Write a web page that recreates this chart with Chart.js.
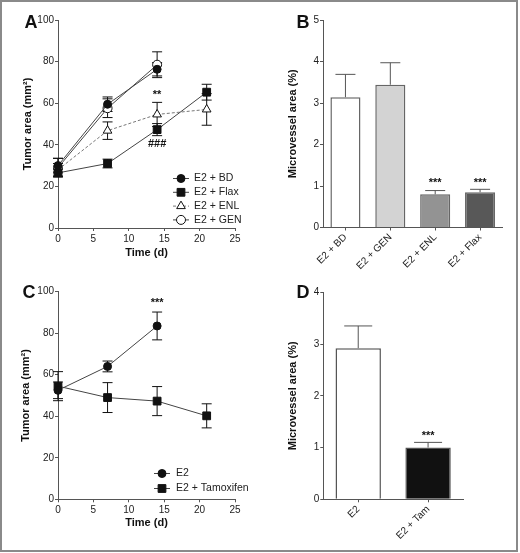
<!DOCTYPE html>
<html>
<head>
<meta charset="utf-8">
<script src="https://cdn.jsdelivr.net/npm/chart.js@4.4.1/dist/chart.umd.min.js"></script>
<style>
  html, body { margin: 0; padding: 0; background: #fff; }
  #frame { position: absolute; left: 0; top: 0; width: 518px; height: 552px;
           box-sizing: border-box; border: 2px solid #8a8a8a; }
  canvas { position: absolute; }
</style>
</head>
<body>
<div id="frame"></div>
<canvas id="chartA" width="260" height="270" style="left:0;top:0"></canvas>
<canvas id="chartB" width="260" height="270" style="left:260px;top:0"></canvas>
<canvas id="chartC" width="260" height="283" style="left:0;top:270px"></canvas>
<canvas id="chartD" width="260" height="283" style="left:260px;top:270px"></canvas>
<script>
const days = [0, 7, 14, 21];
const dayTicks = [0, 5, 10, 15, 20, 25];
const areaTicks = [0, 20, 40, 60, 80, 100];

// A: tumour area (mean, SEM)
const bdMean = [30, 59.5, 76.3];
const bdSem = [3.5, 3.5, 3.2];
const flaxMean = [26.5, 31, 47.3, 65.3];
const flaxSem = [1.8, 2.1, 2.9, 3.8];
const enlMean = [28, 46.8, 54.6, 57];
const enlSem = [3, 4.2, 5.8, 7.6];
const genMean = [29, 57.6, 78.5];
const genSem = [4.5, 4.5, 6.2];
const marksA = [{ x: 14, y: 64, text: "**" }, { x: 14, y: 40.5, text: "###" }];

// B: microvessel area
const groupsB = ["E2 + BD", "E2 + GEN", "E2 + ENL", "E2 + Flax"];
const mvaB = [3.14, 3.44, 0.8, 0.85];
const mvaSemB = [0.55, 0.53, 0.09, 0.07];
const mvaTicksB = [0, 1, 2, 3, 4, 5];
const marksB = [{ x: 2, y: 1.07, text: "***" }, { x: 3, y: 1.07, text: "***" }];

// C: tumour area, tamoxifen
const e2Mean = [52.5, 64, 83.5];
const e2Sem = [4, 2.6, 6.7];
const tamMean = [54.5, 49, 47.3, 40.2];
const tamSem = [7, 7.2, 7, 5.8];
const marksC = [{ x: 14, y: 94.5, text: "***" }];

// D: microvessel area, tamoxifen
const groupsD = ["E2", "E2 + Tam"];
const mvaD = [2.92, 1.0];
const mvaSemD = [0.43, 0.1];
const mvaTicksD = [0, 1, 2, 3, 4];
const marksD = [{ x: 1, y: 1.22, text: "***" }];

const FONT = "'Liberation Sans', Arial, sans-serif";
const AXIS = "#555";
Chart.defaults.font.family = FONT;
Chart.defaults.color = "#222";

const pts = (m) => m.map((v, i) => ({ x: days[i], y: v }));

function drawErr(chart, after) {
  const ctx = chart.ctx, ys = chart.scales.y;
  chart.data.datasets.forEach((ds, di) => {
    if (!ds.sem) return;
    const isBar = chart.config.type === "bar";
    if (isBar !== after) return;
    const meta = chart.getDatasetMeta(di);
    ctx.save();
    ctx.strokeStyle = ds.errColor || "#111";
    ctx.lineWidth = 1;
    meta.data.forEach((el, i) => {
      const raw = ds.data[i];
      const v = typeof raw === "object" ? raw.y : raw;
      const top = ys.getPixelForValue(v + ds.sem[i]);
      const bot = isBar ? el.y : ys.getPixelForValue(v - ds.sem[i]);
      const c = ds.cap / 2;
      ctx.beginPath();
      ctx.moveTo(el.x, top); ctx.lineTo(el.x, bot);
      ctx.moveTo(el.x - c, top); ctx.lineTo(el.x + c, top);
      if (!isBar) { ctx.moveTo(el.x - c, bot); ctx.lineTo(el.x + c, bot); }
      ctx.stroke();
    });
    ctx.restore();
  });
}

const errorBars = {
  id: "errorBars",
  beforeDatasetsDraw(chart) { drawErr(chart, false); },
  afterDatasetsDraw(chart) { drawErr(chart, true); }
};

const marks = {
  id: "marks",
  afterDatasetsDraw(chart, args, opts) {
    const ctx = chart.ctx;
    ctx.save();
    ctx.fillStyle = "#111";
    ctx.textAlign = "center";
    ctx.textBaseline = "middle";
    (opts.items || []).forEach(m => {
      ctx.font = "bold 11px " + FONT;
      ctx.fillText(m.text, chart.scales.x.getPixelForValue(m.x), chart.scales.y.getPixelForValue(m.y));
    });
    if (opts.tag) {
      ctx.font = "bold 18px " + FONT;
      ctx.fillText(opts.tag.text, opts.tag.x, opts.tag.y);
    }
    ctx.restore();
  }
};

const keyBox = {
  id: "keyBox",
  afterDraw(chart, args, opts) {
    if (!opts.x) return;
    const ctx = chart.ctx;
    chart.data.datasets.forEach((ds, i) => {
      const y = opts.y + i * opts.step, x = opts.x;
      ctx.save();
      ctx.strokeStyle = ds.borderColor;
      ctx.lineWidth = 1;
      ctx.setLineDash(ds.borderDash || []);
      ctx.beginPath();
      ctx.moveTo(x - 8, y); ctx.lineTo(x + 8, y);
      ctx.stroke();
      ctx.setLineDash([]);
      ctx.fillStyle = ds.pointBackgroundColor;
      ctx.strokeStyle = ds.pointBorderColor;
      ctx.lineWidth = ds.pointBorderWidth;
      Chart.helpers.drawPoint(ctx, { pointStyle: ds.pointStyle, radius: ds.pointRadius, rotation: 0, borderWidth: ds.pointBorderWidth }, x, y);
      ctx.fillStyle = "#222";
      ctx.font = "10.5px " + FONT;
      ctx.textBaseline = "middle";
      ctx.fillText(ds.label, x + opts.gap, y);
      ctx.restore();
    });
  }
};

function lineSet(label, mean, sem, style, radius, fill, dash) {
  return {
    label, data: pts(mean), sem, cap: 10,
    borderColor: dash ? "#777" : "#444", borderWidth: 1, borderDash: dash || [],
    pointStyle: style, pointRadius: radius, pointHoverRadius: radius,
    pointBackgroundColor: fill, pointBorderColor: "#111", pointBorderWidth: 1,
    tension: 0, clip: false
  };
}

function lineScales(titlePadY, titlePadX) {
  return {
    x: {
      type: "linear", min: 0, max: 25,
      afterBuildTicks: s => { s.ticks = dayTicks.map(v => ({ value: v })); },
      afterFit: s => { s.height = 42; },
      grid: { drawOnChartArea: false, tickLength: 3, color: AXIS },
      border: { color: AXIS },
      ticks: { padding: 2, font: { size: 10 } },
      title: { display: true, text: "Time (d)", font: { size: 11, weight: "bold" }, padding: { top: 0, bottom: titlePadX }, color: "#111" }
    },
    y: {
      min: 0, max: 100,
      afterBuildTicks: s => { s.ticks = areaTicks.map(v => ({ value: v })); },
      afterFit: s => { s.width = 58; },
      grid: { drawOnChartArea: false, tickLength: 3, color: AXIS },
      border: { color: AXIS },
      ticks: { padding: 1, font: { size: 10 } },
      title: { display: true, text: "Tumor area (mm²)", font: { size: 11, weight: "bold" }, padding: { top: titlePadY, bottom: 0 }, color: "#111" }
    }
  };
}

function barScales(ticks, max, width, titlePadY) {
  return {
    x: {
      afterFit: s => { s.height = 42.5; },
      grid: { drawOnChartArea: false, offset: false, tickLength: 3, color: AXIS },
      border: { color: AXIS },
      ticks: { padding: 1, minRotation: 45, maxRotation: 45, font: { size: 10 } }
    },
    y: {
      min: 0, max,
      afterBuildTicks: s => { s.ticks = ticks.map(v => ({ value: v })); },
      afterFit: s => { s.width = width; },
      grid: { drawOnChartArea: false, tickLength: 3, color: AXIS },
      border: { color: AXIS },
      ticks: { padding: 1, font: { size: 10 } },
      title: { display: true, text: "Microvessel area (%)", font: { size: 11, weight: "bold" }, padding: { top: titlePadY, bottom: 0 }, color: "#111" }
    }
  };
}

const common = { responsive: false, animation: false, events: [] };

new Chart(document.getElementById("chartA"), {
  type: "line",
  data: {
    datasets: [
      lineSet("E2 + BD", bdMean, bdSem, "circle", 4, "#111"),
      lineSet("E2 + Flax", flaxMean, flaxSem, "rect", 5.5, "#111"),
      lineSet("E2 + ENL", enlMean, enlSem, "triangle", 5, "#fff", [3, 2]),
      lineSet("E2 + GEN", genMean, genSem, "circle", 4.5, "#fff")
    ]
  },
  options: {
    ...common,
    layout: { padding: { left: 0, top: 20, right: 25, bottom: 0 } },
    scales: lineScales(21.4, 10.4),
    plugins: {
      legend: { display: false }, tooltip: { enabled: false },
      marks: { items: marksA, tag: { text: "A", x: 31, y: 23 } },
      keyBox: { x: 181, y: 178.5, step: 13.8, gap: 13 }
    }
  },
  plugins: [errorBars, marks, keyBox]
});

new Chart(document.getElementById("chartB"), {
  type: "bar",
  data: {
    labels: groupsB,
    datasets: [{
      data: mvaB, sem: mvaSemB, cap: 20, errColor: "#555",
      backgroundColor: ["#ffffff", "#d3d3d3", "#939393", "#585858"],
      borderColor: "#666", borderWidth: 1.5,
      barPercentage: 0.67, categoryPercentage: 1
    }]
  },
  options: {
    ...common,
    layout: { padding: { left: 0, top: 20, right: 17.5, bottom: 0 } },
    scales: barScales(mvaTicksB, 5, 63, 26.1),
    plugins: {
      legend: { display: false }, tooltip: { enabled: false },
      marks: { items: marksB, tag: { text: "B", x: 43, y: 23 } }
    }
  },
  plugins: [errorBars, marks]
});

new Chart(document.getElementById("chartC"), {
  type: "line",
  data: {
    datasets: [
      lineSet("E2", e2Mean, e2Sem, "circle", 4, "#111"),
      lineSet("E2 + Tamoxifen", tamMean, tamSem, "rect", 5.5, "#111")
    ]
  },
  options: {
    ...common,
    layout: { padding: { left: 0, top: 21.7, right: 25, bottom: 11.7 } },
    scales: lineScales(19.4, 11.7),
    plugins: {
      legend: { display: false }, tooltip: { enabled: false },
      marks: { items: marksC, tag: { text: "C", x: 29, y: 23 } },
      keyBox: { x: 162, y: 203.5, step: 15, gap: 14 }
    }
  },
  plugins: [errorBars, marks, keyBox]
});

new Chart(document.getElementById("chartD"), {
  type: "bar",
  data: {
    labels: groupsD,
    datasets: [{
      data: mvaD, sem: mvaSemD, cap: 28, errColor: "#555",
      backgroundColor: ["#ffffff", "#111111"],
      borderColor: "#555", borderWidth: 1.5,
      barPercentage: 0.65, categoryPercentage: 1
    }]
  },
  options: {
    ...common,
    layout: { padding: { left: 0, top: 22.3, right: 57, bottom: 11.2 } },
    scales: barScales(mvaTicksD, 4, 63.3, 26.4),
    plugins: {
      legend: { display: false }, tooltip: { enabled: false },
      marks: { items: marksD, tag: { text: "D", x: 43, y: 23 } }
    }
  },
  plugins: [errorBars, marks]
});
</script>
</body>
</html>
